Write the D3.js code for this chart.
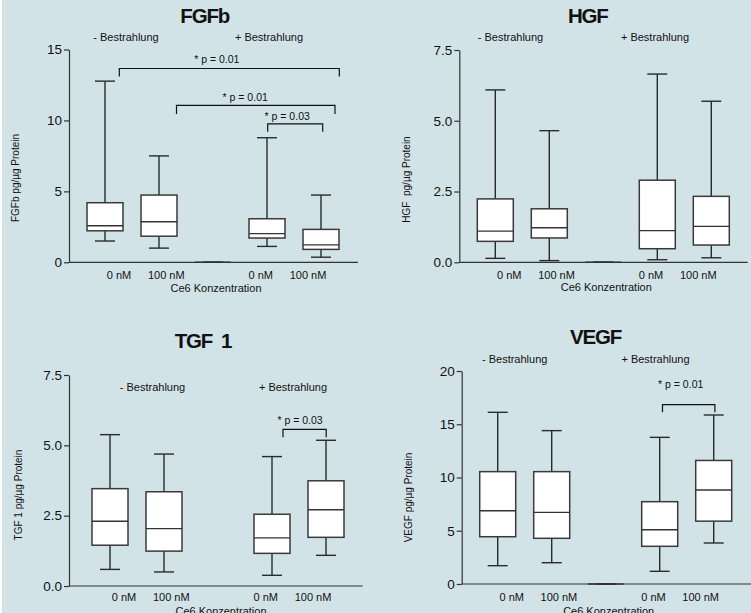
<!DOCTYPE html>
<html>
<head>
<meta charset="utf-8">
<script src="https://cdn.jsdelivr.net/npm/d3@7"></script>
<style>
  html, body { margin: 0; padding: 0; background: #d2e3e7; }
  svg { display: block; }
  text { font-family: "Liberation Sans", Arial, sans-serif; fill: #111; }
</style>
</head>
<body>
<svg id="chart" width="751" height="613"></svg>
<script>
// ---------------- DATA ----------------
const categories = ["0 nM", "100 nM", "", "0 nM", "100 nM"];
const groupLabels = ["- Bestrahlung", "+ Bestrahlung"];
const xAxisTitle = "Ce6 Konzentration";

const panelTitles = ["FGFb", "HGF", "TGF\u00a0\u00a01", "VEGF"];
const yAxisTitles = ["FGFb pg/\u00b5g Protein", "HGF\u00a0 pg/\u00b5g Protein", "TGF 1 pg/\u00b5g Protein", "VEGF pg/\u00b5g Protein"];
const yMax = [15, 7.5, 7.5, 20];
const yTicks = [[0, 5, 10, 15], [0, 2.5, 5, 7.5], [0, 2.5, 5, 7.5], [0, 5, 10, 15, 20]];
const yTickFormat = ["d", ".1f", ".1f", "d"];

// box statistics: whisker low, Q1, median, Q3, whisker high
const fgfbLow  = [1.5, 1.0, 0, 1.12, 0.36];
const fgfbQ1   = [2.22, 1.84, 0, 1.71, 0.91];
const fgfbMed  = [2.58, 2.86, 0, 2.02, 1.23];
const fgfbQ3   = [4.2, 4.74, 0, 3.07, 2.32];
const fgfbHigh = [12.77, 7.5, 0, 8.78, 4.74];

const hgfLow  = [0.14, 0.06, 0, 0.09, 0.16];
const hgfQ1   = [0.74, 0.86, 0, 0.48, 0.61];
const hgfMed  = [1.1, 1.22, 0, 1.12, 1.27];
const hgfQ3   = [2.24, 1.89, 0, 2.9, 2.33];
const hgfHigh = [6.09, 4.65, 0, 6.65, 5.69];

const tgfLow  = [0.59, 0.5, null, 0.38, 1.09];
const tgfQ1   = [1.45, 1.24, null, 1.16, 1.73];
const tgfMed  = [2.3, 2.04, null, 1.71, 2.71];
const tgfQ3   = [3.46, 3.35, null, 2.55, 3.74];
const tgfHigh = [5.38, 4.69, null, 4.6, 5.18];

const vegfLow  = [1.72, 2.0, 0, 1.19, 3.85];
const vegfQ1   = [4.44, 4.29, 0, 3.54, 5.9];
const vegfMed  = [6.88, 6.73, 0, 5.1, 8.83];
const vegfQ3   = [10.55, 10.55, 0, 7.73, 11.6];
const vegfHigh = [16.12, 14.4, 0, 13.77, 15.87];

// significance annotations
const sigPanel = [0, 0, 0, 2, 3];
const sigFrom  = [0, 1, 3, 3, 3];
const sigTo    = [4, 4, 4, 4, 4];
const sigY     = [13.66, 11.06, 9.76, 5.57, 16.84];
const sigText  = ["* p = 0.01", "* p = 0.01", "* p = 0.03", "* p = 0.03", "* p = 0.01"];

// ---------------- LAYOUT ----------------
const stats = [
  [fgfbLow, fgfbQ1, fgfbMed, fgfbQ3, fgfbHigh],
  [hgfLow, hgfQ1, hgfMed, hgfQ3, hgfHigh],
  [tgfLow, tgfQ1, tgfMed, tgfQ3, tgfHigh],
  [vegfLow, vegfQ1, vegfMed, vegfQ3, vegfHigh]
];

const layout = [
  { ax: 69,    top: 49.5, y0: 262.3, xEnd: 358,   dx: 0, title: [204.7, 22.7], groupX: [126, 269],     groupY: 40.6,  ylab: [18.5, 178],   catY: 278.6, ce6Y: 291.6 },
  { ax: 459.3, top: 50,   y0: 262.3, xEnd: 747.7, dx: 0, title: [587.8, 22.7], groupX: [510.5, 655],   groupY: 40.6,  ylab: [410.2, 179.5], catY: 278.6, ce6Y: 291.2 },
  { ax: 69,    top: 375,  y0: 586,   xEnd: 362.7, dx: 5, title: [203, 348.3],  groupX: [152.5, 293],   groupY: 391,   ylab: [21.8, 495],   catY: 600.6, ce6Y: 614.6 },
  { ax: 461.7, top: 371,  y0: 584,   xEnd: 751,   dx: 0, title: [595.5, 344],  groupX: [514.7, 655.5], groupY: 362.9, ylab: [411.8, 497.5], catY: 601.2, ce6Y: 614.6 }
];
// bracket geometry: left/right offsets from box centres, text x offset from left end, text rise
const sigLayout = [
  { l: 14.3, r: 18.3, tx: 97.5, ty: 5.4, tick: 8 },
  { l: 17.5, r: 14,   tx: 68.7, ty: 4.7, tick: 8.5 },
  { l: 0.7,  r: 1.7,  tx: 19.5, ty: 4.2, tick: 8 },
  { l: 11,   r: 0.2,  tx: 17,   ty: 5.3, tick: 8 },
  { l: 2.8,  r: 1.2,  tx: 18.2, ty: 16.7, tick: 7.5 }
];

const boxW = 36, capW = 20;
const svg = d3.select("#chart");
svg.append("rect").attr("width", 751).attr("height", 613).attr("fill", "#d2e3e7");
svg.append("rect").attr("x", 0).attr("y", 0).attr("width", 2).attr("height", 613).attr("fill", "#ffffff");

const scales = [];

layout.forEach((L, p) => {
  const g = svg.append("g");
  const y = d3.scaleLinear().domain([0, yMax[p]]).range([L.y0, L.top]);
  const xc = d3.scalePoint().domain(d3.range(categories.length)).range([L.ax + 36 + L.dx, L.ax + 252 + L.dx]);
  const xl = d3.scalePoint().domain(d3.range(categories.length)).range([L.ax + 50 + L.dx, L.ax + 239 + L.dx]);
  scales.push({ x: xc, y: y });

  // y axis
  const yAxis = d3.axisLeft(y).tickValues(yTicks[p]).tickFormat(d3.format(yTickFormat[p]))
    .tickSize(5).tickSizeOuter(0).tickPadding(2);
  const ag = g.append("g").attr("transform", `translate(${L.ax},0)`).call(yAxis);
  ag.select(".domain").attr("stroke", "#333").attr("stroke-width", 1.2);
  ag.selectAll(".tick line").attr("stroke", "#333").attr("stroke-width", 1.2);
  ag.selectAll(".tick text").style("font-size", "13.5px").attr("fill", "#1a1a1a")
    .style("font-family", '"Liberation Sans", Arial, sans-serif');

  // x axis line
  g.append("line").attr("x1", L.ax).attr("x2", L.xEnd).attr("y1", y(0)).attr("y2", y(0))
    .attr("stroke", "#333").attr("stroke-width", 1.2);

  // boxes
  const [lo, q1, md, q3, hi] = stats[p];
  const idx = d3.range(categories.length).filter(i => md[i] !== null);
  const bx = g.selectAll("g.box").data(idx).join("g").attr("class", "box");
  bx.append("line").attr("x1", i => xc(i)).attr("x2", i => xc(i))
    .attr("y1", i => y(hi[i])).attr("y2", i => y(q3[i])).attr("stroke", "#2a2a2a").attr("stroke-width", 1.4);
  bx.append("line").attr("x1", i => xc(i)).attr("x2", i => xc(i))
    .attr("y1", i => y(q1[i])).attr("y2", i => y(lo[i])).attr("stroke", "#2a2a2a").attr("stroke-width", 1.4);
  bx.append("line").attr("x1", i => xc(i) - capW / 2).attr("x2", i => xc(i) + capW / 2)
    .attr("y1", i => y(hi[i])).attr("y2", i => y(hi[i])).attr("stroke", "#2a2a2a").attr("stroke-width", 1.4);
  bx.append("line").attr("x1", i => xc(i) - capW / 2).attr("x2", i => xc(i) + capW / 2)
    .attr("y1", i => y(lo[i])).attr("y2", i => y(lo[i])).attr("stroke", "#2a2a2a").attr("stroke-width", 1.4);
  bx.append("rect").attr("x", i => xc(i) - boxW / 2).attr("width", boxW)
    .attr("y", i => y(q3[i])).attr("height", i => y(q1[i]) - y(q3[i]))
    .attr("fill", "#ffffff").attr("stroke", "#3a3a3a").attr("stroke-width", 1.5);
  bx.append("line").attr("x1", i => xc(i) - boxW / 2).attr("x2", i => xc(i) + boxW / 2)
    .attr("y1", i => y(md[i])).attr("y2", i => y(md[i])).attr("stroke", "#333").attr("stroke-width", 1.4);

  // category labels
  g.selectAll("text.cat").data(d3.range(categories.length)).join("text").attr("class", "cat")
    .attr("x", i => xl(i)).attr("y", L.catY).attr("text-anchor", "middle")
    .style("font-size", "11px").text(i => categories[i]);

  // x axis title
  g.append("text").attr("x", L.ax + 147 + L.dx).attr("y", L.ce6Y).attr("text-anchor", "middle")
    .style("font-size", "11px").text(xAxisTitle);

  // group labels
  groupLabels.forEach((t, k) => {
    g.append("text").attr("x", L.groupX[k]).attr("y", L.groupY).attr("text-anchor", "middle")
      .style("font-size", "11px").text(t);
  });

  // title
  g.append("text").attr("x", L.title[0]).attr("y", L.title[1]).attr("text-anchor", "middle")
    .style("font-size", "20.5px").style("font-weight", "bold").style("letter-spacing", "-1.2px")
    .text(panelTitles[p]);

  // y axis title
  g.append("text").attr("transform", `translate(${L.ylab[0]},${L.ylab[1]}) rotate(-90)`)
    .attr("text-anchor", "middle").style("font-size", "10px").text(yAxisTitles[p]);
});

// significance brackets
sigPanel.forEach((p, k) => {
  const S = sigLayout[k];
  const { x, y } = scales[p];
  const x1 = x(sigFrom[k]) + S.l, x2 = x(sigTo[k]) + S.r, yy = y(sigY[k]);
  svg.append("path")
    .attr("d", `M${x1},${yy + S.tick}V${yy}H${x2}V${yy + S.tick}`)
    .attr("fill", "none").attr("stroke", "#111").attr("stroke-width", 1.2);
  svg.append("text").attr("x", x1 + S.tx).attr("y", yy - S.ty).attr("text-anchor", "middle")
    .style("font-size", "10.5px").text(sigText[k]);
});
</script>
</body>
</html>
